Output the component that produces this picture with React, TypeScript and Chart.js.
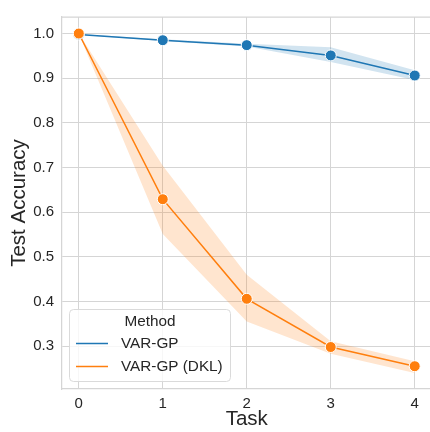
import React, { useEffect, useRef } from 'react';
import { Chart, registerables } from 'chart.js';
Chart.register(...registerables);

const tasks = [0, 1, 2, 3, 4];
const varGp = [0.998, 0.985, 0.974, 0.951, 0.906];
const varGpLow = [0.997, 0.983, 0.971, 0.936, 0.896];
const varGpHigh = [0.999, 0.987, 0.977, 0.969, 0.918];
const dkl = [1.0, 0.629, 0.406, 0.298, 0.255];
const dklLow = [0.999, 0.551, 0.355, 0.283, 0.24];
const dklHigh = [1.0, 0.704, 0.46, 0.311, 0.266];
const yTicks = [0.3, 0.4, 0.5, 0.6, 0.7, 0.8, 0.9, 1.0];
const xTicks = [0, 1, 2, 3, 4];
const seriesNames = ['VAR-GP', 'VAR-GP (DKL)'];
const legendTitle = 'Method';

const BLUE = '#1f77b4';
const ORANGE = '#ff7f0e';
const GRID = '#d5d5d5';
const TEXT = '#262626';
const FONT = '"Liberation Sans", Arial, sans-serif';

const pts = (ys: number[]) => tasks.map((x, i) => ({ x, y: ys[i] }));

const legendPlugin = {
  id: 'methodLegend',
  afterDatasetsDraw(chart: any) {
    const ctx = chart.ctx;
    const x0 = 69.5, y0 = 309.5, w = 161, h = 72, r = 4;
    ctx.save();
    ctx.beginPath();
    ctx.moveTo(x0 + r, y0);
    ctx.arcTo(x0 + w, y0, x0 + w, y0 + h, r);
    ctx.arcTo(x0 + w, y0 + h, x0, y0 + h, r);
    ctx.arcTo(x0, y0 + h, x0, y0, r);
    ctx.arcTo(x0, y0, x0 + w, y0, r);
    ctx.closePath();
    ctx.fillStyle = 'rgba(255,255,255,0.8)';
    ctx.fill();
    ctx.strokeStyle = '#dadada';
    ctx.lineWidth = 1;
    ctx.stroke();
    ctx.fillStyle = TEXT;
    ctx.font = `15.3px ${FONT}`;
    ctx.textBaseline = 'middle';
    ctx.textAlign = 'center';
    ctx.fillText(legendTitle, x0 + w / 2, 321.5);
    ctx.textAlign = 'left';
    const items = [
      { label: seriesNames[0], color: BLUE, y: 343.5 },
      { label: seriesNames[1], color: ORANGE, y: 366.5 },
    ];
    for (const it of items) {
      ctx.strokeStyle = it.color;
      ctx.lineWidth = 1.5;
      ctx.beginPath();
      ctx.moveTo(76, it.y);
      ctx.lineTo(108, it.y);
      ctx.stroke();
      ctx.fillStyle = TEXT;
      ctx.fillText(it.label, 121, it.y);
    }
    ctx.restore();
  },
};

const topBorderPlugin = {
  id: 'topBorder',
  beforeDatasetsDraw(chart: any) {
    const { ctx, chartArea } = chart;
    ctx.save();
    ctx.strokeStyle = GRID;
    ctx.lineWidth = 1.25;
    ctx.beginPath();
    ctx.moveTo(chartArea.left, chartArea.top);
    ctx.lineTo(chartArea.right, chartArea.top);
    ctx.moveTo(chartArea.right, chartArea.top);
    ctx.lineTo(chartArea.right, chartArea.bottom);
    ctx.stroke();
    ctx.restore();
  },
};

export default function App() {
  const ref = useRef<HTMLCanvasElement>(null);
  useEffect(() => {
    if (!ref.current) return;
    const lineDs = (label: string, data: number[], color: string) => ({
      label,
      data: pts(data),
      borderColor: color,
      backgroundColor: color,
      borderWidth: 1.5,
      pointRadius: 5.5,
      pointBorderColor: '#ffffff',
      pointBorderWidth: 1,
      pointBackgroundColor: color,
      fill: false,
      tension: 0,
    });
    const bandDs = (data: number[], color: string, fill: any) => ({
      label: '',
      data: pts(data),
      borderWidth: 0,
      borderColor: 'rgba(0,0,0,0)',
      backgroundColor: color,
      pointRadius: 0,
      fill,
      tension: 0,
    });
    const chart = new Chart(ref.current, {
      type: 'line',
      data: {
        datasets: [
          lineDs(seriesNames[1], dkl, ORANGE),
          lineDs(seriesNames[0], varGp, BLUE),
          bandDs(dklHigh, 'rgba(255,127,14,0.2)', '+1'),
          bandDs(dklLow, 'rgba(255,127,14,0.2)', false),
          bandDs(varGpHigh, 'rgba(31,119,180,0.2)', '+1'),
          bandDs(varGpLow, 'rgba(31,119,180,0.2)', false),
        ] as any,
      },
      options: {
        animation: false,
        responsive: false,
        layout: { padding: { left: 0, top: 7, right: 0, bottom: 0 } },
        plugins: { legend: { display: false }, tooltip: { enabled: false } },
        scales: {
          x: {
            type: 'linear',
            min: -0.2,
            max: 4.2,
            afterBuildTicks: (s: any) => { s.ticks = xTicks.map((v) => ({ value: v })); },
            afterFit: (s: any) => { s.height = 43; },
            ticks: {
              color: TEXT,
              font: { size: 15, family: FONT },
              padding: 6,
              callback: (v: any) => String(v),
            },
            grid: { color: GRID, lineWidth: 1, drawTicks: false },
            border: { color: GRID, width: 1.25 },
            title: {
              display: true,
              text: 'Task',
              color: TEXT,
              font: { size: 20.5, family: FONT, lineHeight: 1.2 },
              padding: { top: 0, bottom: 0 },
            },
          },
          y: {
            type: 'linear',
            min: 0.204,
            max: 1.037,
            afterBuildTicks: (s: any) => { s.ticks = yTicks.map((v) => ({ value: v })); },
            afterFit: (s: any) => { s.width = 62; },
            ticks: {
              color: TEXT,
              font: { size: 15, family: FONT },
              padding: 8,
              callback: (v: any) => Number(v).toFixed(1),
            },
            grid: { color: GRID, lineWidth: 1, drawTicks: false },
            border: { color: GRID, width: 1.25 },
            title: {
              display: true,
              text: 'Test Accuracy',
              color: TEXT,
              font: { size: 20.5, family: FONT, lineHeight: 1.2 },
              padding: { top: 7, bottom: 0 },
            },
          },
        },
      },
      plugins: [topBorderPlugin, legendPlugin],
    });
    return () => chart.destroy();
  }, []);
  return (
    <div style={{ position: 'fixed', left: 0, top: 0, width: 430, height: 432, overflow: 'hidden', background: '#fff' }}>
      <canvas ref={ref} width={438} height={432} style={{ display: 'block' }} />
    </div>
  );
}
